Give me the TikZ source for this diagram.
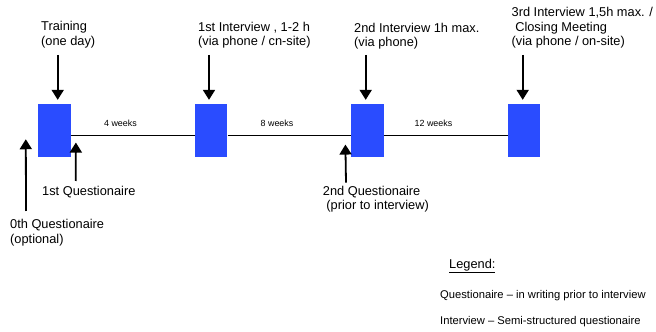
\documentclass[tikz,border=0pt]{standalone}
\usepackage{fontspec}
\setmainfont{Liberation Sans}
\usetikzlibrary{arrows.meta}
\definecolor{boxblue}{RGB}{42,76,255}

\begin{document}
\begin{tikzpicture}[x=1pt,y=1pt,
  box/.style={fill=boxblue,minimum width=32.4pt,minimum height=53.3pt,inner sep=0pt},
  lbl/.style={anchor=base west,inner sep=0pt,align=left,font=\fontsize{12.8}{14.5}\selectfont},
  wk/.style={above=8pt,inner sep=0pt,font=\fontsize{8.9}{10}\selectfont},
  arr/.style={line width=1.8pt,-{Triangle[width=12pt,length=10pt]}}]
\useasboundingbox (0,0) rectangle (656,332);
% the four meetings
\node[box] (b1) at (54.5,201.3) {};
\node[box] (b2) at (211.2,201.3) {};
\node[box] (b3) at (367.5,201.3) {};
\node[box] (b4) at (524.2,201.3) {};
% time line
\draw[line width=1.5pt] ([yshift=-4.8pt]b1.east) -- node[wk,pos=.4]{4 weeks} ([yshift=-4.8pt]b2.west);
\draw[line width=1.5pt] ([yshift=-4.8pt]b2.east) -- node[wk,pos=.4]{8 weeks} ([yshift=-4.8pt]b3.west);
\draw[line width=1.5pt] ([yshift=-4.8pt]b3.east) -- node[wk,pos=.4]{12 weeks} ([yshift=-4.8pt]b4.west);
% labels above (base = last line)
\node[lbl] (train) at (41,286.7) {Training\\(one day)};
\node[lbl] (int1) at (198,286) {1st Interview , 1-2 h\\(via phone / cn-site)};
\node[lbl] (int2) at (354,285.3) {2nd Interview 1h max.\\(via phone)};
\node[lbl] (int3) at (511.5,286) {3rd Interview 1,5h max. /\\\ Closing Meeting\\(via phone / on-site)};
\draw[arr] ([xshift=3.2pt,yshift=49pt]b1.north) -- ([xshift=3.2pt,yshift=4pt]b1.north);
\draw[arr] ([xshift=-2.2pt,yshift=49pt]b2.north) -- ([xshift=-2.2pt,yshift=4pt]b2.north);
\draw[arr] ([xshift=-1.8pt,yshift=49pt]b3.north) -- ([xshift=-1.8pt,yshift=4pt]b3.north);
\draw[arr] ([xshift=-1.5pt,yshift=49pt]b4.north) -- ([xshift=-1.5pt,yshift=4pt]b4.north);
% questionaires below
\node[lbl] (q0) at (10,88.5) {0th Questionaire\\(optional)};
\node[lbl] (q1) at (42,136.3) {1st Questionaire};
\node[lbl] (q2) at (322.7,122) {2nd Questionaire\\\ (prior to interview)};
\draw[arr] ([xshift=16pt,yshift=32.5pt]q0.base west) -- ([xshift=-12.3pt,yshift=18.3pt]b1.south west);
\draw[arr] ([xshift=33.7pt,yshift=14.7pt]q1.base west) -- ([xshift=5pt,yshift=15pt]b1.south east);
\draw[arr] ([xshift=23.3pt,yshift=27.3pt]q2.base west) -- ([xshift=-5.7pt,yshift=13pt]b3.south west);
% legend
\node[lbl] (leg) at (449,63.7) {\underline{Legend:}};
\node[lbl,font=\fontsize{11.2}{13}\selectfont] (legq) at (440,33) {Questionaire -- in writing prior to interview};
\node[lbl,font=\fontsize{11.2}{13}\selectfont] (legi) at (440,7) {Interview -- Semi-structured questionaire};
\end{tikzpicture}
\end{document}
